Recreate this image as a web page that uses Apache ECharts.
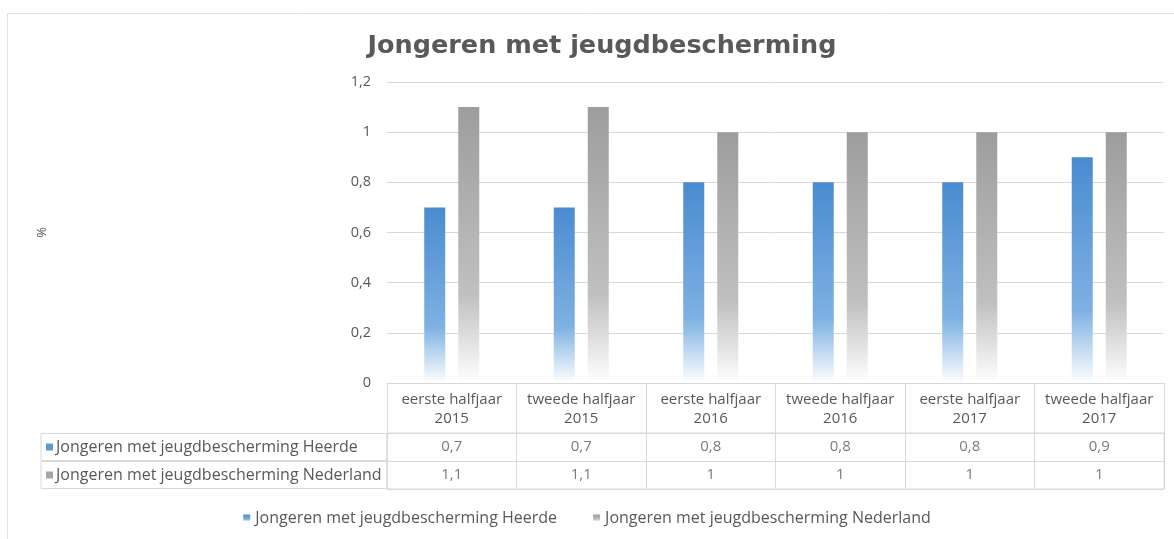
<!DOCTYPE html>
<html>
<head>
<meta charset="utf-8">
<script src="https://cdn.jsdelivr.net/npm/echarts@6/dist/echarts.min.js"></script>
<style>
  html, body { margin: 0; padding: 0; background: #fff; }
  #chart { width: 1174px; height: 539px; }
</style>
</head>
<body>
<div id="chart"></div>
<script>
// gegevens
var periodes = ['eerste halfjaar\n2015', 'tweede halfjaar\n2015', 'eerste halfjaar\n2016',
    'tweede halfjaar\n2016', 'eerste halfjaar\n2017', 'tweede halfjaar\n2017'];
var heerde = [0.7, 0.7, 0.8, 0.8, 0.8, 0.9];
var nederland = [1.1, 1.1, 1, 1, 1, 1];
var reeksNamen = ['Jongeren met jeugdbescherming Heerde', 'Jongeren met jeugdbescherming Nederland'];
var kleuren = ['#5b9bd5', '#a5a5a5'];

var chart = echarts.init(document.getElementById('chart'));
var font = '"Open Sans", "Liberation Sans", sans-serif';
var lijn = '#d9d9d9';

function komma(v) {
    return String(Math.round(v * 10) / 10).replace('.', ',');
}

function verloop(top, mid) {
    return new echarts.graphic.LinearGradient(0, 0, 0, 1, [
        {offset: 0, color: top},
        {offset: 0.68, color: mid},
        {offset: 1, color: '#ffffff'}
    ]);
}

// tabelcellen met waarden
var tabel = [];
for (var i = 0; i < periodes.length; i++) {
    tabel.push([i, 0, heerde[i]]);
    tabel.push([i, 1, nederland[i]]);
}

var option = {
    backgroundColor: '#fff',
    textStyle: {fontFamily: font},
    title: {
        text: 'Jongeren met jeugdbescherming',
        left: 597,
        textAlign: 'center',
        top: 28,
        textStyle: {
            color: '#595959',
            fontSize: 25.5,
            fontWeight: 'bold',
            fontFamily: '"DejaVu Sans", sans-serif'
        }
    },
    graphic: [{
        type: 'rect',
        shape: {x: 7.5, y: 13.5, width: 1200, height: 540},
        style: {fill: 'none', stroke: '#e3e3e3', lineWidth: 1},
        silent: true
    }],
    legend: {
        data: reeksNamen,
        bottom: 8,
        left: 'center',
        icon: 'rect',
        itemWidth: 7,
        itemHeight: 7,
        itemGap: 36,
        textStyle: {color: '#595959', fontSize: 16, fontFamily: font}
    },
    grid: [
        {left: 387, right: 10, top: 82, height: 301},
        {left: 387, right: 10, top: 433, height: 56, show: true, borderColor: lijn, borderWidth: 1}
    ],
    xAxis: [{
        type: 'category',
        gridIndex: 0,
        data: periodes,
        axisLine: {lineStyle: {color: lijn}},
        axisTick: {show: true, length: 50, interval: 0, lineStyle: {color: lijn}},
        axisLabel: {
            interval: 0,
            color: '#595959',
            fontSize: 15,
            lineHeight: 19,
            margin: 7
        }
    }, {
        type: 'category',
        gridIndex: 1,
        data: periodes,
        axisLine: {show: false},
        axisTick: {show: false},
        axisLabel: {show: false},
        splitLine: {show: true, interval: 0, lineStyle: {color: lijn}}
    }],
    yAxis: [{
        type: 'value',
        gridIndex: 0,
        min: 0,
        max: 1.2,
        interval: 0.2,
        name: '%',
        nameLocation: 'middle',
        nameGap: 338,
        nameRotate: 90,
        nameTextStyle: {color: '#595959', fontSize: 13},
        axisLine: {show: false},
        axisTick: {show: false},
        splitLine: {lineStyle: {color: lijn}},
        axisLabel: {color: '#595959', fontSize: 14.5, margin: 16, formatter: komma}
    }, {
        type: 'category',
        gridIndex: 1,
        inverse: true,
        data: reeksNamen,
        axisLine: {show: false},
        axisTick: {show: false},
        splitLine: {show: true, interval: 0, lineStyle: {color: lijn}},
        axisLabel: {
            margin: 0,
            width: 341,
            height: 27,
            lineHeight: 27,
            padding: [0, 0, 0, 5],
            borderColor: lijn,
            borderWidth: 1,
            color: '#595959',
            fontSize: 16,
            formatter: function (v, idx) {
                return '{' + (idx === 0 ? 'a' : 'b') + '|}{t|' + v + '}';
            },
            rich: {
                a: {width: 7, height: 7, backgroundColor: kleuren[0], align: 'left'},
                b: {width: 7, height: 7, backgroundColor: kleuren[1], align: 'left'},
                t: {color: '#595959', fontSize: 16, padding: [0, 0, 0, 3], align: 'left', fontFamily: font}
            }
        }
    }],
    series: [{
        name: reeksNamen[0],
        type: 'bar',
        xAxisIndex: 0,
        yAxisIndex: 0,
        barWidth: 21,
        barGap: '62%',
        data: heerde,
        itemStyle: {color: verloop('#4a8bd0', '#7eb1e3')}
    }, {
        name: reeksNamen[1],
        type: 'bar',
        xAxisIndex: 0,
        yAxisIndex: 0,
        barWidth: 21,
        data: nederland,
        itemStyle: {color: verloop('#9d9d9d', '#c0c0c0')}
    }, {
        name: 'tabel',
        type: 'scatter',
        xAxisIndex: 1,
        yAxisIndex: 1,
        symbolSize: 1,
        itemStyle: {color: 'rgba(0,0,0,0)'},
        silent: true,
        data: tabel,
        label: {
            show: true,
            position: 'inside',
            color: '#595959',
            fontSize: 15,
            formatter: function (p) { return komma(p.value[2]); }
        }
    }]
};

chart.setOption(option);
window.addEventListener('resize', function () {
    chart.resize();
});
</script>
</body>
</html>
